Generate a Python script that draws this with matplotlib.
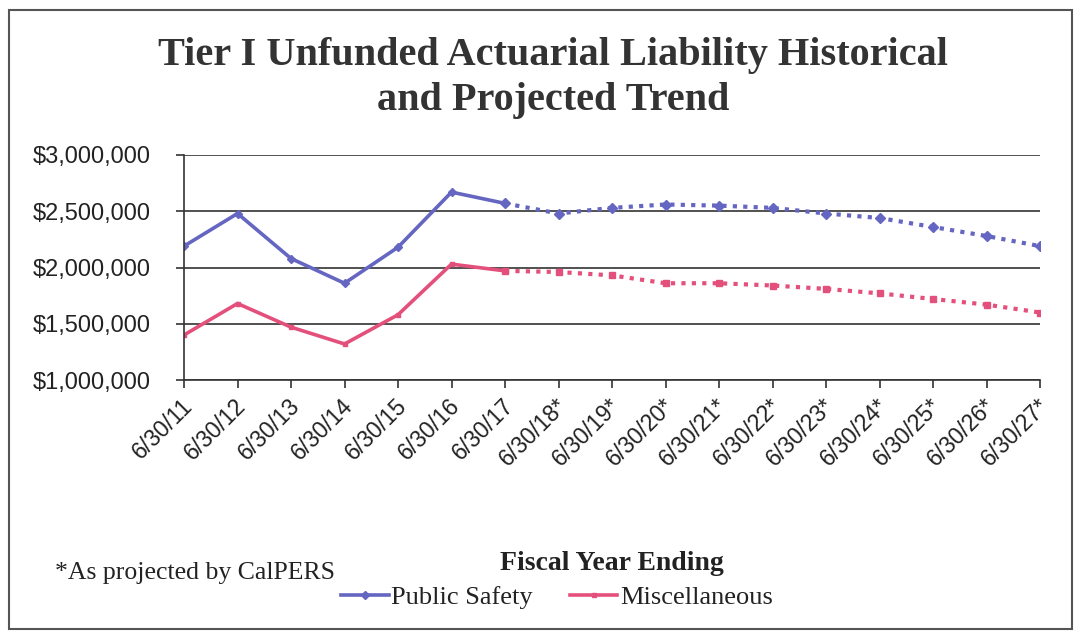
import matplotlib.pyplot as plt
from matplotlib.patches import Rectangle
from matplotlib.ticker import FuncFormatter
from matplotlib.transforms import ScaledTranslation

# Fiscal years (ending 6/30), * = CalPERS projection
years = ["6/30/11", "6/30/12", "6/30/13", "6/30/14", "6/30/15", "6/30/16", "6/30/17",
         "6/30/18*", "6/30/19*", "6/30/20*", "6/30/21*", "6/30/22*", "6/30/23*",
         "6/30/24*", "6/30/25*", "6/30/26*", "6/30/27*"]
public_safety = [2190000, 2480000, 2080000, 1860000, 2180000, 2670000, 2570000,
                 2480000, 2530000, 2560000, 2550000, 2530000, 2480000,
                 2440000, 2360000, 2280000, 2190000]
miscellaneous = [1400000, 1680000, 1470000, 1320000, 1580000, 2030000, 1970000,
                 1960000, 1930000, 1860000, 1860000, 1840000, 1810000,
                 1770000, 1720000, 1670000, 1600000]
last_actual = 6  # index of 6/30/17, last historical value

blue = "#6466c2"
pink = "#e4507c"
serif = ["Liberation Serif", "DejaVu Serif"]
sans = ["Liberation Sans", "DejaVu Sans"]

fig = plt.figure(figsize=(10.81, 6.35), dpi=100)
ax = fig.add_axes([184 / 1081, 1 - 380 / 635, (1040 - 184) / 1081, (380 - 155) / 635])

x = list(range(len(years)))
hx, px = x[:last_actual + 1], x[last_actual:]

ax.plot(hx, public_safety[:last_actual + 1], color=blue, lw=2.6, marker="D", ms=4,
        label="Public Safety")
ax.plot(px, public_safety[last_actual:], color=blue, lw=3, ls=(0, (1, 1.5)), marker="D", ms=5)
ax.plot(hx, miscellaneous[:last_actual + 1], color=pink, lw=2.6, marker="s", ms=3.5,
        label="Miscellaneous")
ax.plot(px, miscellaneous[last_actual:], color=pink, lw=3, ls=(0, (1, 1.5)), marker="s", ms=5)

ax.set_xlim(0, len(years) - 1)
ax.set_ylim(1000000, 3000000)
ax.set_yticks([1000000, 1500000, 2000000, 2500000, 3000000])
ax.yaxis.set_major_formatter(FuncFormatter(lambda v, _: f"${v:,.0f}"))
ax.set_xticks(x)
ax.set_xticklabels(years, rotation=45, ha="right", va="center", rotation_mode="anchor")
ax.grid(axis="y", color="#333333", lw=1.2)
ax.set_axisbelow(True)
for side in ["top", "right"]:
    ax.spines[side].set_visible(False)
for side in ["left", "bottom"]:
    ax.spines[side].set_color("#333333")
    ax.spines[side].set_linewidth(1.2)
ax.tick_params(axis="both", direction="out", length=6, width=1.2, color="#333333",
               labelcolor="#222222")
ax.tick_params(axis="y", pad=18, labelsize=17)
ax.tick_params(axis="x", pad=10, labelsize=16.5)
shift = ScaledTranslation(5 / 100, 0, fig.dpi_scale_trans)
for lab in ax.get_xticklabels():
    lab.set_family(sans)
    lab.set_transform(lab.get_transform() + shift)
for lab in ax.get_yticklabels():
    lab.set_family(sans)

fig.text(0.512, 0.877, "Tier I Unfunded Actuarial Liability Historical\nand Projected Trend",
         ha="center", va="center", fontsize=29, fontweight="bold", family=serif,
         color="#333333", linespacing=1.3)
fig.text(612 / 1081, 1 - 563 / 635, "Fiscal Year Ending", ha="center", va="center",
         fontsize=20, fontweight="bold", family=serif, color="#222222")
fig.text(55 / 1081, 1 - 573 / 635, "*As projected by CalPERS", ha="left", va="center",
         fontsize=18.5, family=serif, color="#222222")

leg = fig.legend(loc="center", bbox_to_anchor=(557 / 1081, 1 - 597 / 635), ncol=2,
                 frameon=False, handlelength=1.8, handletextpad=0.1, columnspacing=1.4,
                 prop={"family": serif, "size": 19})
for t in leg.get_texts():
    t.set_color("#222222")

fig.patches.append(Rectangle((9 / 1081, 1 - 629 / 635), (1072 - 9) / 1081, (629 - 10) / 635,
                             transform=fig.transFigure, fill=False,
                             edgecolor="#555555", lw=1.5))

fig.savefig("out.png", dpi=100)
